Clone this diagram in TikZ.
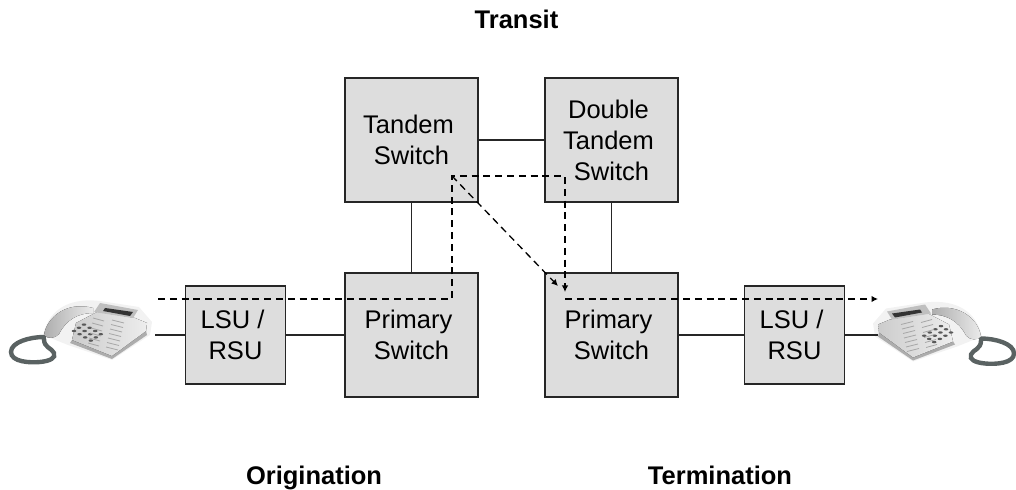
\documentclass[tikz,border=0pt]{standalone}
\usepackage{fontspec}
\setmainfont{Liberation Sans}
\usetikzlibrary{arrows.meta}
\definecolor{boxgray}{HTML}{DDDDDD}
\definecolor{cordgray}{HTML}{5A6262}
\tikzset{
  swbox/.style={draw=black!85,line width=1.5bp,fill=boxgray,align=center,inner sep=0pt,
    minimum width=133bp,minimum height=124bp,font=\fontsize{25.5bp}{31bp}\selectfont},
  lsubox/.style={swbox,minimum width=100bp,minimum height=98bp},
  trunk/.style={draw=black!85,line width=1.7bp},
  callpath/.style={draw=black,line width=1.3bp,dash pattern=on 7bp off 4.8bp},
  calltip/.style={-{Latex[length=6.5bp,width=6.5bp]}},
  zonelabel/.style={anchor=base,inner sep=0pt,font=\fontsize{25.5bp}{28bp}\selectfont\bfseries},
  deskphone/.pic={
    % soft glow, cord, handset
    \fill[black!5] (43,335) .. controls (50,305) and (75,298) .. (100,301) -- (139,307) -- (152,322) -- (150,335) -- (112,360) -- (68,345) -- cycle;
    \draw[cordgray,line width=4.4bp,line cap=round] (44,337) .. controls (30,337) and (11,342) .. (11,352) .. controls (11,362) and (30,363) .. (40,362) .. controls (50,361) and (56,358) .. (54,353) .. controls (52,348) and (44,348) .. (44,339);
    \fill[left color=black!32,right color=black!8] (44,335) .. controls (47,316) and (68,301) .. (93,308) -- (93,313) .. controls (78,313) and (66,320) .. (59,334) .. controls (55,339) and (47,339) .. (44,335) -- cycle;
    % body and display
    \fill[black!32] (72,340) -- (112,356) -- (146,331) -- (147,335) -- (112,359) -- (70,343) -- cycle;
    \fill[left color=black!20,right color=black!7] (76,323) -- (97,312) -- (135,318) -- (147,323) -- (146,331) -- (112,356) -- (72,340) -- cycle;
    \fill[black!25] (100,303) -- (138,310) -- (133,318) -- (94,312) -- cycle;
    \fill[black!80] (105,308) -- (133,312) -- (130,316) -- (103,311) -- cycle;
    % keys
    \foreach \row in {0,1,2} \foreach \col in {0,1,2,3}
      \fill[black!65] ({74+\col*5.6+\row*5},{331+\col*3.2-\row*3.2}) circle[x radius=2.3bp,y radius=1.2bp];
    \foreach \row in {0,...,6} {
      \draw[black!35,line width=0.8bp] ({93+\row*-1},{318+\row*5}) -- +(11,3);
      \draw[black!35,line width=0.8bp] ({112+\row*-1},{320+\row*4.5}) -- +(12,3);
    }
  }
}
\begin{document}
\begin{tikzpicture}[x=1bp,y=-1bp]
  \useasboundingbox (0,0) rectangle (1016,490);

  \pic (phoneleft) at (0,0) {deskphone};
  \pic (phoneright) [xshift=1025bp,yshift=-1.5bp,xscale=-1] at (0,0) {deskphone};

  \node[swbox] (tandem) at (411.5,140) {Tandem\kern6bp\\Switch};
  \node[swbox] (double) at (611.5,140) {Double\kern6bp\\Tandem\kern6bp\\Switch};
  \node[swbox] (primaryo) at (411.5,335) {Primary\kern6bp\\Switch};
  \node[swbox] (primaryt) at (611.5,335) {Primary\kern6bp\\Switch};
  \node[lsubox] (lsuo) at (235.5,335) {LSU /\kern6bp\\RSU};
  \node[lsubox] (lsut) at (794.5,335) {LSU /\kern6bp\\RSU};

  \node[zonelabel] (transit) at (516.5,29) {Transit};
  \node[zonelabel] (origination) at (314,484) {Origination};
  \node[zonelabel] (termination) at (720,484.5) {Termination};

  \coordinate (lineo) at (155,335);
  \coordinate (linet) at (878,335);
  \coordinate (callstart) at (158,299);
  \coordinate (riseo) at (452,299);
  \coordinate (hub) at (452,176);
  \coordinate (hubright) at (565,176);
  \coordinate (droptip) at (565,292);
  \coordinate (diagtip) at (558,286);
  \coordinate (leavet) at (565,299);
  \coordinate (callend) at (878,299);

  \foreach \from/\to in {lineo/lsuo,lsuo/primaryo,primaryo/tandem,tandem/double,double/primaryt,primaryt/lsut,lsut/linet}
    \draw[trunk] (\from) -- (\to);

  \draw[callpath,calltip] (callstart) -- (riseo) -- (hub) -- (hubright) -- (droptip);
  \draw[callpath,calltip] (hub) -- (diagtip);
  \draw[callpath,calltip] (leavet) -- (callend);
\end{tikzpicture}
\end{document}
